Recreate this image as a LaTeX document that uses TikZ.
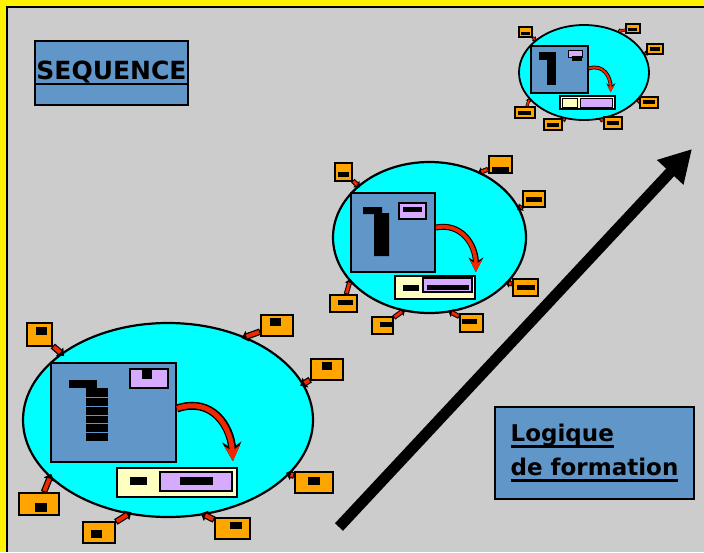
\documentclass[tikz,border=0pt]{standalone}
\usepackage{fontspec}
\setmainfont{DejaVu Sans}
\usetikzlibrary{shapes.geometric,arrows.meta}
\definecolor{slidegray}{RGB}{204,204,204}
\definecolor{slideblue}{RGB}{97,150,200}
\definecolor{lilac}{RGB}{214,170,255}
\definecolor{cream}{RGB}{255,255,192}
\definecolor{tagorange}{RGB}{255,165,0}
\definecolor{arrowred}{RGB}{240,40,0}
\definecolor{aqua}{RGB}{0,255,255}
\newcommand{\ulbar}[1]{\setbox0\hbox{#1}\leavevmode\rlap{\rule[-6pt]{\wd0}{2.4pt}}\box0}
\begin{document}
\begin{tikzpicture}[x=1pt,y=-1pt,
		tag/.style={draw,fill=tagorange,line width=1.6pt,inner sep=0pt},
		pane/.style={draw,fill=slideblue,line width=1.8pt,inner sep=0pt},
		pocket/.style={draw,fill=lilac,line width=1.6pt,inner sep=0pt},
		strip/.style={draw,fill=cream,line width=1.8pt,inner sep=0pt},
		cloud/.style={ellipse,draw,fill=aqua,line width=2.2pt,inner sep=0pt},
		title/.style={pane,font=\fontsize{25}{30}\selectfont\bfseries},
		pinA/.style={arrowred,line width=4pt,shorten <=1.2pt,shorten >=1pt,preaction={draw=black,line width=6.5pt,shorten <=0pt,shorten >=-4pt,-{Triangle[length=6pt,width=11pt]}}},
		pinB/.style={arrowred,line width=3pt,shorten <=1pt,shorten >=1pt,preaction={draw=black,line width=5pt,shorten <=0pt,shorten >=-3pt,-{Triangle[length=5pt,width=8.5pt]}}},
		pinC/.style={arrowred,line width=1.8pt,shorten <=0.6pt,shorten >=0.5pt,preaction={draw=black,line width=3pt,shorten <=0pt,shorten >=-1.5pt,-{Triangle[length=3.5pt,width=5.5pt]}}},
		swoopA/.style={arrowred,line width=5pt,-{Stealth[length=15pt,width=15pt]},preaction={draw=black,line width=8pt,-{Stealth[length=19pt,width=19pt]}}},
		swoopB/.style={arrowred,line width=3.8pt,-{Stealth[length=12pt,width=12pt]},preaction={draw=black,line width=6pt,-{Stealth[length=14.5pt,width=14.5pt]}}},
		swoopC/.style={arrowred,line width=2.2pt,-{Stealth[length=7pt,width=7pt]},preaction={draw=black,line width=3.8pt,-{Stealth[length=9pt,width=9pt]}}}]
	\useasboundingbox (0,0) rectangle (704,552);
	\fill[yellow] (0,0) rectangle (704,552);
	\fill[slidegray] (7,7) rectangle (704,552);
	\draw[line width=1.6pt] (7,552) -- (7,7) -- (704,7);

	\node[title,minimum width=153pt,minimum height=64pt] (seq) at (111.5,73) {\ulbar{SEQUENCE}};
	\node[title,minimum width=199pt,minimum height=92pt,align=left,font=\fontsize{23}{34}\selectfont\bfseries] (logic) at (594.5,453) {\ulbar{Logique}\\\ulbar{de formation}};

	\coordinate (tail) at (339,527);
	\coordinate (tip) at (692,149);
	\draw[line width=11pt,-{Triangle[length=32pt,width=34pt]}] (tail) -- (tip);

	\node[cloud,minimum width=290pt,minimum height=194pt] (ellA) at (168,420) {};
	\node[pane,minimum width=125pt,minimum height=99pt] (sqA) at (113.5,412.5) {};
	\node[pocket,minimum width=38pt,minimum height=19pt] (pktA) at (149,378.5) {};
	\fill (142,369) rectangle (152,379);
	\fill (69,380) rectangle (97,388);
	\fill (86,388) rectangle (108,441);
	\foreach \y in {397,406,415,423,432}
		\draw[slideblue,line width=0.6pt] (86,\y) -- (108,\y);
	\node[strip,minimum width=120pt,minimum height=29pt] (barA) at (177,482.5) {};
	\fill (130,477) rectangle (147,485);
	\node[pocket,minimum width=72pt,minimum height=19pt] (slotA) at (196,481.5) {};
	\fill (180,477) rectangle (213,485);
	\draw[swoopA] ([yshift=4pt]sqA.east) .. controls +(35,-12) and +(-2,-35) .. ([shift={(-5pt,6pt)}]barA.north east);

	\node[tag,minimum width=25pt,minimum height=23pt] (tA1) at (39.5,334.5) {};
	\fill (36,327) rectangle (47,335);
	\node[tag,minimum width=32pt,minimum height=21pt] (tA2) at (277,325.5) {};
	\fill (270,318) rectangle (281,326);
	\node[tag,minimum width=32pt,minimum height=21pt] (tA3) at (327,369.5) {};
	\fill (322,362) rectangle (332,370);
	\node[tag,minimum width=38pt,minimum height=21pt] (tA4) at (314,482.5) {};
	\fill (308,477) rectangle (320,485);
	\node[tag,minimum width=35pt,minimum height=21pt] (tA5) at (232.5,528.5) {};
	\fill (230,522) rectangle (242,529);
	\node[tag,minimum width=32pt,minimum height=21pt] (tA6) at (99,532.5) {};
	\fill (91,530) rectangle (102,538);
	\node[tag,minimum width=40pt,minimum height=22pt] (tA7) at (39,504) {};
	\fill (35,503) rectangle (47,512);
	\draw[pinA] (tA1) -- (ellA.148);
	\draw[pinA] (tA2) -- (ellA.47);
	\draw[pinA] (tA3) -- (ellA.15);
	\draw[pinA] (tA4) -- (ellA.-24);
	\draw[pinA] (tA5) -- (ellA.-69);
	\draw[pinA] (tA6) -- (ellA.-113);
	\draw[pinA] (tA7) -- (ellA.-154);

	\node[cloud,minimum width=193pt,minimum height=151pt] (ellB) at (429.5,237.5) {};
	\node[pane,minimum width=84pt,minimum height=79pt] (sqB) at (393,232.5) {};
	\node[pocket,minimum width=27pt,minimum height=16pt] (pktB) at (412.5,211) {};
	\fill (403,207) rectangle (422,212);
	\fill (363,207) -- (382,207) -- (382,213) -- (389,213) -- (389,256) -- (374,256) -- (374,214) -- (363,214) -- cycle;
	\node[strip,minimum width=80pt,minimum height=23pt] (barB) at (435,287.5) {};
	\fill (403,285) rectangle (419,291);
	\node[pocket,minimum width=49pt,minimum height=14pt] (slotB) at (447.5,285) {};
	\fill (427,285) rectangle (469,290);
	\draw[swoopB] ([yshift=5pt]sqB.east) .. controls +(25,-5) and +(0,-28) .. ([yshift=3pt]barB.north east);

	\node[tag,minimum width=17pt,minimum height=18pt] (tB1) at (343.5,172) {};
	\fill (338,172) rectangle (349,177);
	\node[tag,minimum width=23pt,minimum height=17pt] (tB2) at (500.5,164.5) {};
	\fill (492,167) rectangle (509,172);
	\node[tag,minimum width=22pt,minimum height=16pt] (tB3) at (534,199) {};
	\fill (526,197) rectangle (542,202);
	\node[tag,minimum width=25pt,minimum height=17pt] (tB4) at (525.5,287.5) {};
	\fill (517,285) rectangle (535,290);
	\node[tag,minimum width=23pt,minimum height=18pt] (tB5) at (471.5,323) {};
	\fill (462,319) rectangle (477,324);
	\node[tag,minimum width=21pt,minimum height=17pt] (tB6) at (382.5,325.5) {};
	\fill (380,322) rectangle (392,327);
	\node[tag,minimum width=27pt,minimum height=17pt] (tB7) at (343.5,303.5) {};
	\fill (338,300) rectangle (353,305);
	\draw[pinB] (tB1) -- (ellB.144);
	\draw[pinB] (tB2) -- (ellB.52);
	\draw[pinB] (tB3) -- (ellB.18);
	\draw[pinB] (tB4) -- (ellB.-30);
	\draw[pinB] (tB5) -- (ellB.-74);
	\draw[pinB] (tB6) -- (ellB.-110);
	\draw[pinB] (tB7) -- (ellB.-151);

	\node[cloud,line width=1.8pt,minimum width=130pt,minimum height=95pt] (ellC) at (584,72.5) {};
	\node[pane,line width=1.4pt,minimum width=57pt,minimum height=47pt] (sqC) at (559.5,69.5) {};
	\node[pocket,line width=1pt,minimum width=14pt,minimum height=7pt] (pktC) at (575,53.5) {};
	\fill (572,56) rectangle (582,61);
	\fill (539,52) rectangle (552,60);
	\fill (547,52) rectangle (556,85);
	\node[strip,line width=1.4pt,minimum width=55pt,minimum height=13pt] (barC) at (587.5,102.5) {};
	\draw[line width=1pt] (562,98) rectangle (577,107);
	\node[pocket,line width=1pt,minimum width=32pt,minimum height=9pt] (slotC) at (596,102.5) {};
	\draw[swoopC] ([yshift=1pt]sqC.east) .. controls +(15,-5) and +(0,-15) .. ([shift={(-5pt,3pt)}]barC.north east);

	\node[tag,line width=1.2pt,minimum width=13pt,minimum height=10pt] (tC1) at (525.5,32) {};
	\fill (521,32) rectangle (530,35);
	\node[tag,line width=1.2pt,minimum width=14pt,minimum height=9pt] (tC2) at (633,28.5) {};
	\fill (628,28) rectangle (637,31);
	\node[tag,line width=1.2pt,minimum width=16pt,minimum height=10pt] (tC3) at (655,49) {};
	\fill (650,47) rectangle (660,51);
	\node[tag,line width=1.2pt,minimum width=18pt,minimum height=11pt] (tC4) at (649,102.5) {};
	\fill (643,100) rectangle (655,104);
	\node[tag,line width=1.2pt,minimum width=18pt,minimum height=12pt] (tC5) at (613,123) {};
	\fill (607,121) rectangle (619,125);
	\node[tag,line width=1.2pt,minimum width=18pt,minimum height=11pt] (tC6) at (553,124.5) {};
	\fill (547,123) rectangle (559,127);
	\node[tag,line width=1.2pt,minimum width=20pt,minimum height=11pt] (tC7) at (525,112.5) {};
	\fill (518,111) rectangle (531,115);
	\draw[pinC] (tC1) -- (ellC.146);
	\draw[pinC] (tC2) -- (ellC.50);
	\draw[pinC] (tC3) -- (ellC.17);
	\draw[pinC] (tC4) -- (ellC.-28);
	\draw[pinC] (tC5) -- (ellC.-71);
	\draw[pinC] (tC6) -- (ellC.-112);
	\draw[pinC] (tC7) -- (ellC.-154);
\end{tikzpicture}
\end{document}
